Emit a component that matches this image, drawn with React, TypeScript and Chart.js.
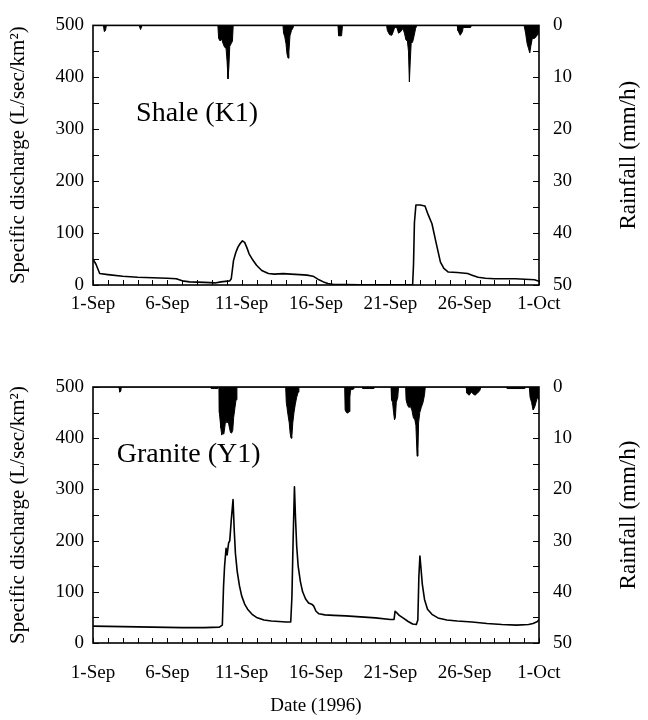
import React, { useEffect, useRef } from 'react';
import { Chart, registerables } from 'chart.js';

Chart.register(...registerables);

const SERIF = '"Liberation Serif", "Times New Roman", serif';

// X axis (days after 1-Sep 1996)
const xTickDays = [0, 5, 10, 15, 20, 25, 30];
const xTickLabels = ['1-Sep', '6-Sep', '11-Sep', '16-Sep', '21-Sep', '26-Sep', '1-Oct'];

// Shale (K1) specific discharge
const shaleQDays = [0, 0.2, 0.45, 1.0, 2.0, 3.0, 4.0, 5.0, 5.6, 6.0, 6.5, 7.5, 8.2, 8.6, 9.2, 9.3,
  9.45, 9.6, 9.75, 9.9, 10.05, 10.2, 10.35, 10.5, 10.75, 11.0, 11.35, 11.8, 12.2, 12.8, 13.3, 13.9,
  14.4, 14.8, 15.2, 15.5, 15.8, 16.2, 17, 18, 19, 20, 21, 21.5, 21.56, 21.62, 21.72, 22.0,
  22.33, 22.55, 22.8, 23.05, 23.37, 23.6, 23.9, 24.5, 25.2, 25.5, 25.9, 26.4, 27.0, 28.4, 29.7, 30];
const shaleQ = [50, 40, 22, 20, 17, 15, 14, 13, 12, 8, 6, 5, 4, 6, 8, 12,
  47, 62, 73, 80, 85, 82, 72, 60, 48, 38, 28, 22, 21, 22, 21, 20,
  19, 17, 10, 6, 3, 1, 1, 0.5, 0.5, 0.5, 0.5, 1, 40, 120, 154, 154,
  152, 135, 118, 85, 44, 32, 25, 24, 22, 19, 15, 13, 12, 12, 10, 7];

// Shale (K1) rainfall (mm/h)
const shaleRainDays = [0,
  0.7, 0.76, 0.84, 0.9,
  3.1, 3.2, 3.3,
  8.4, 8.45, 8.55, 8.65, 8.75, 8.85, 8.95, 9.02, 9.08, 9.14, 9.2, 9.3, 9.38, 9.43,
  12.78, 12.82, 12.9, 12.98, 13.05, 13.12, 13.18, 13.25, 13.35, 13.45, 13.5,
  16.48, 16.52, 16.72, 16.78,
  19.75, 19.8, 19.95, 20.1, 20.2, 20.3, 20.45, 20.55, 20.7, 20.85, 20.95, 21.05, 21.15, 21.22, 21.28, 21.34, 21.4, 21.5, 21.6, 21.7, 21.78,
  24.5, 24.55, 24.7, 24.85, 24.9, 25.4, 25.45,
  29.0, 29.1, 29.2, 29.3, 29.38, 29.45, 29.55, 29.7, 29.85, 30];
const shaleRain = [0,
  0, 1.2, 1.0, 0,
  0, 0.8, 0,
  0, 2.5, 3.0, 2.6, 3.5, 4.2, 4.4, 7.0, 10.3, 8.0, 4.0, 3.5, 3.0, 0,
  0, 1.5, 2.2, 3.5, 5.5, 6.3, 5.0, 2.0, 1.0, 0.5, 0,
  0, 2.0, 2.0, 0,
  0, 1.0, 1.8, 1.9, 1.2, 0.3, 0.5, 1.5, 1.2, 0.6, 1.5, 2.8, 3.0, 5.0, 10.9, 7.0, 3.5, 3.2, 2.0, 0.6, 0,
  0, 1.0, 1.9, 1.2, 0.4, 0.4, 0,
  0, 1.5, 3.5, 4.5, 5.3, 4.0, 2.5, 2.5, 2.0, 1.5];

// Granite (Y1) specific discharge
const graniteQDays = [0, 2, 4, 6, 7.5, 8.5, 8.7, 8.78, 8.85, 8.95, 9.02, 9.12, 9.2, 9.3, 9.42, 9.5,
  9.58, 9.7, 9.85, 10.0, 10.2, 10.4, 10.7, 11.0, 11.5, 12.0, 12.5, 13.0, 13.3, 13.38, 13.46, 13.55,
  13.62, 13.7, 13.8, 13.95, 14.1, 14.3, 14.5, 14.75, 14.85, 15.0, 15.2, 15.6, 16.2, 17.0, 18.0, 19.0,
  20.0, 20.25, 20.32, 20.4, 20.6, 20.9, 21.2, 21.5, 21.75, 21.85, 21.92, 21.99, 22.05, 22.15, 22.3, 22.5,
  22.8, 23.2, 23.8, 24.5, 25.5, 26.5, 27.5, 28.5, 29.3, 29.6, 29.9, 30];
const graniteQ = [33, 32, 31, 30, 30, 31, 35, 110, 150, 185, 172, 195, 200, 240, 280, 220,
  175, 140, 112, 92, 76, 66, 56, 50, 45, 43, 42, 41, 41, 90, 200, 305,
  245, 190, 150, 120, 100, 86, 78, 75, 72, 62, 57, 55, 54, 53, 51, 49,
  46, 46, 62, 60, 54, 48, 42, 37, 36, 45, 130, 170, 150, 115, 85, 66,
  56, 49, 45, 43, 41, 38, 36, 35, 36, 38, 42, 46];

// Granite (Y1) rainfall (mm/h)
const graniteRainDays = [0,
  1.75, 1.8, 1.87, 1.9,
  7.9, 7.95, 8.4, 8.45,
  8.48, 8.5, 8.55, 8.6, 8.66, 8.72, 8.8, 8.86, 8.92, 9.0, 9.1, 9.18, 9.25, 9.32, 9.4, 9.46, 9.55, 9.62, 9.68,
  12.96, 13.0, 13.05, 13.12, 13.2, 13.26, 13.32, 13.38, 13.44, 13.52, 13.6, 13.7, 13.8, 13.85,
  16.93, 16.96, 17.05, 17.15, 17.22, 17.28, 17.32, 17.5, 17.55,
  18.1, 18.15, 18.9, 18.95,
  20.05, 20.08, 20.15, 20.22, 20.28, 20.34, 20.4, 20.5, 20.55,
  21.03, 21.06, 21.15, 21.25, 21.35, 21.45, 21.55, 21.65, 21.72, 21.8, 21.86, 21.9, 21.98, 22.08, 22.2, 22.3, 22.35,
  25.1, 25.15, 25.3, 25.45, 25.55, 25.7, 25.85, 26.0, 26.1,
  27.8, 27.85, 29.0, 29.05,
  29.35, 29.4, 29.5, 29.6, 29.7, 29.8, 29.9, 30];
const graniteRain = [0,
  0, 1.0, 0.8, 0,
  0, 0.3, 0.3, 0,
  0, 5.0, 6.5, 8.0, 9.4, 9.0, 9.2, 8.0, 6.5, 7.0, 6.8, 8.0, 8.9, 9.0, 8.5, 6.0, 4.0, 2.5, 0,
  0, 3.0, 4.0, 5.5, 7.0, 9.0, 10.0, 9.5, 7.0, 5.0, 3.5, 2.0, 1.0, 0,
  0, 4.5, 5.0, 5.1, 4.8, 2.0, 0.6, 0.4, 0,
  0, 0.3, 0.3, 0,
  0, 2.5, 3.0, 5.0, 6.4, 6.0, 3.0, 2.0, 0,
  0, 2.5, 3.5, 4.0, 3.8, 4.5, 6.0, 6.4, 7.5, 13.5, 12.0, 7.0, 5.0, 4.0, 3.0, 1.5, 0,
  0, 1.2, 1.6, 1.0, 1.3, 1.6, 1.2, 0.8, 0,
  0, 0.3, 0.3, 0,
  0, 2.0, 3.0, 4.5, 4.0, 3.0, 2.0, 2.5];

const toPoints = (xs: number[], ys: number[]) => xs.map((x, i) => ({ x, y: ys[i] }));

interface PanelOpts {
  qDays: number[];
  q: number[];
  rDays: number[];
  r: number[];
  label: string;
  labelDay: number;
  labelQ: number;
  padTop: number;
  xHeight: number;
  xPad: number;
  showXTitle: boolean;
}

function makeConfig(o: PanelOpts): any {
  const tickFont = { size: 19, family: SERIF };
  const panelPlugin = {
    id: 'panelDecor',
    afterDraw(chart: any) {
      const { ctx, chartArea: a, scales } = chart;
      ctx.save();
      ctx.strokeStyle = '#000';
      ctx.lineWidth = 1;
      ctx.beginPath();
      for (let d = 0; d <= 30; d++) {
        const px = Math.round(scales.x.getPixelForValue(d)) + 0.5;
        ctx.moveTo(px, a.bottom);
        ctx.lineTo(px, a.bottom - 5);
      }
      for (let v = 0; v <= 500; v += 50) {
        const py = Math.round(scales.y.getPixelForValue(v)) + 0.5;
        ctx.moveTo(a.left, py);
        ctx.lineTo(a.left + 6, py);
      }
      for (let v = 0; v <= 50; v += 5) {
        const py = Math.round(scales.y2.getPixelForValue(v)) + 0.5;
        ctx.moveTo(a.right, py);
        ctx.lineTo(a.right - 6, py);
      }
      ctx.stroke();
      ctx.lineWidth = 1.6;
      ctx.strokeRect(a.left, a.top, a.right - a.left, a.bottom - a.top);

      ctx.fillStyle = '#000';
      ctx.font = '28px ' + SERIF;
      ctx.textBaseline = 'middle';
      ctx.textAlign = 'left';
      ctx.fillText(o.label, scales.x.getPixelForValue(o.labelDay), scales.y.getPixelForValue(o.labelQ));

      ctx.translate(a.right + 90, (a.top + a.bottom) / 2);
      ctx.rotate(-Math.PI / 2);
      ctx.textAlign = 'center';
      ctx.font = '23px ' + SERIF;
      ctx.fillText('Rainfall (mm/h)', 0, 0);
      ctx.restore();
    },
  };

  return {
    type: 'line',
    data: {
      datasets: [
        {
          label: 'Rainfall',
          data: toPoints(o.rDays, o.r),
          yAxisID: 'y2',
          borderColor: '#000',
          backgroundColor: '#000',
          borderWidth: 1,
          pointRadius: 0,
          fill: { value: 0 },
          order: 2,
        },
        {
          label: 'Specific discharge',
          data: toPoints(o.qDays, o.q),
          yAxisID: 'y',
          borderColor: '#000',
          borderWidth: 1.6,
          borderJoinStyle: 'round',
          pointRadius: 0,
          fill: false,
          order: 1,
        },
      ],
    },
    options: {
      responsive: false,
      animation: false,
      devicePixelRatio: 1,
      events: [],
      layout: { padding: { top: o.padTop, left: 0, right: 0, bottom: 0 } },
      plugins: { legend: { display: false }, tooltip: { enabled: false } },
      scales: {
        x: {
          type: 'linear',
          min: 0,
          max: 30,
          ticks: {
            stepSize: 5,
            autoSkip: false,
            maxRotation: 0,
            padding: o.xPad,
            color: '#000',
            font: tickFont,
            callback: (v: number) => {
              const i = xTickDays.indexOf(v);
              return i >= 0 ? xTickLabels[i] : '';
            },
          },
          grid: { display: false, drawTicks: false },
          border: { display: false },
          title: {
            display: o.showXTitle,
            text: 'Date (1996)',
            color: '#000',
            font: { size: 19, family: SERIF },
            padding: { top: 0, bottom: 3 },
          },
          afterFit: (s: any) => { s.height = o.xHeight; },
        },
        y: {
          type: 'linear',
          position: 'left',
          min: 0,
          max: 500,
          ticks: { stepSize: 100, padding: 9, color: '#000', font: tickFont },
          grid: { display: false, drawTicks: false },
          border: { display: false },
          title: {
            display: true,
            text: 'Specific discharge (L/sec/km²)',
            color: '#000',
            font: { size: 21, family: SERIF },
            padding: { top: 6, bottom: 0 },
          },
          afterFit: (s: any) => { s.width = 93; },
        },
        y2: {
          type: 'linear',
          position: 'right',
          min: 0,
          max: 50,
          reverse: true,
          ticks: { stepSize: 10, padding: 14, color: '#000', font: tickFont },
          grid: { display: false, drawTicks: false },
          border: { display: false },
          afterFit: (s: any) => { s.width = 109; },
        },
      },
    },
    plugins: [panelPlugin],
  };
}

export default function App() {
  const topRef = useRef<HTMLCanvasElement>(null);
  const botRef = useRef<HTMLCanvasElement>(null);

  useEffect(() => {
    const c1 = new Chart(topRef.current as HTMLCanvasElement, makeConfig({
      qDays: shaleQDays, q: shaleQ, rDays: shaleRainDays, r: shaleRain,
      label: 'Shale (K1)', labelDay: 2.9, labelQ: 330,
      padTop: 22, xHeight: 60, xPad: 8, showXTitle: false,
    }));
    const c2 = new Chart(botRef.current as HTMLCanvasElement, makeConfig({
      qDays: graniteQDays, q: graniteQ, rDays: graniteRainDays, r: graniteRain,
      label: 'Granite (Y1)', labelDay: 1.6, labelQ: 367,
      padTop: 42, xHeight: 77, xPad: 19, showXTitle: true,
    }));
    return () => { c1.destroy(); c2.destroy(); };
  }, []);

  return (
    <div style={{ position: 'absolute', left: 0, top: 0, width: 648, height: 720, background: '#fff' }}>
      <canvas ref={topRef} width={648} height={345} style={{ position: 'absolute', left: 0, top: 0 }} />
      <canvas ref={botRef} width={648} height={375} style={{ position: 'absolute', left: 0, top: 345 }} />
    </div>
  );
}
